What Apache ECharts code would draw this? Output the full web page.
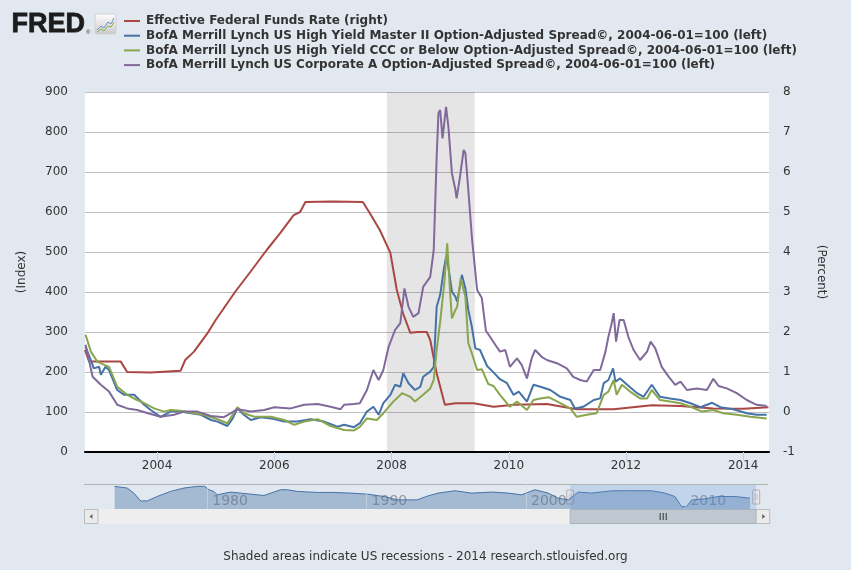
<!DOCTYPE html>
<html>
<head>
<meta charset="utf-8">
<script src="https://cdn.jsdelivr.net/npm/echarts@6/dist/echarts.min.js"></script>
<style>
  html, body { margin: 0; padding: 0; background: #e1e8ef; }
  #chart { width: 851px; height: 570px; }
</style>
</head>
<body>
<div id="chart"></div>
<script>
// all dates are decimal years
const fedYears = [2002.77, 2002.84, 2003.38, 2003.49, 2003.89, 2004.40, 2004.48, 2004.63, 2004.86, 2005.00,
  2005.33, 2005.59, 2005.87, 2006.10, 2006.33, 2006.44, 2006.53, 2007.00, 2007.51, 2007.63,
  2007.80, 2007.98, 2008.09, 2008.20, 2008.32, 2008.45, 2008.60, 2008.66, 2008.77, 2008.91,
  2009.09, 2009.40, 2009.74, 2010.10, 2010.65, 2011.16, 2011.79, 2012.44, 2012.93, 2013.49,
  2014.00, 2014.43];
const fedRate = [1.55, 1.26, 1.26, 1.00, 0.99, 1.03, 1.30, 1.51, 1.97, 2.30,
  3.00, 3.50, 4.05, 4.47, 4.92, 5.00, 5.25, 5.26, 5.25, 4.97,
  4.55, 3.98, 3.05, 2.45, 1.98, 2.00, 2.00, 1.80, 0.97, 0.18,
  0.22, 0.22, 0.13, 0.18, 0.20, 0.07, 0.07, 0.17, 0.15, 0.09,
  0.08, 0.12];

const hyYears = [2002.78, 2002.87, 2002.92, 2003.01, 2003.04, 2003.12, 2003.18, 2003.32, 2003.44, 2003.61,
  2003.78, 2003.89, 2004.06, 2004.23, 2004.40, 2004.58, 2004.75, 2004.92, 2005.03, 2005.20,
  2005.29, 2005.37, 2005.48, 2005.60, 2005.77, 2005.94, 2006.17, 2006.39, 2006.62, 2006.85,
  2007.08, 2007.19, 2007.36, 2007.46, 2007.58, 2007.69, 2007.78, 2007.86, 2007.98, 2008.06,
  2008.15, 2008.20, 2008.29, 2008.40, 2008.49, 2008.54, 2008.66, 2008.72, 2008.77, 2008.83,
  2008.89, 2008.93, 2008.97, 2009.03, 2009.09, 2009.12, 2009.20, 2009.26, 2009.31, 2009.37,
  2009.43, 2009.51, 2009.63, 2009.74, 2009.85, 2009.97, 2010.08, 2010.17, 2010.31, 2010.42,
  2010.54, 2010.71, 2010.88, 2011.05, 2011.13, 2011.27, 2011.45, 2011.56, 2011.62, 2011.70,
  2011.78, 2011.82, 2011.90, 2012.02, 2012.19, 2012.30, 2012.44, 2012.58, 2012.75, 2012.93,
  2013.10, 2013.27, 2013.47, 2013.61, 2013.83, 2014.06, 2014.23, 2014.40];
const hyIndex = [263, 230, 209, 213, 193, 213, 205, 155, 143, 143,
  118, 105, 88, 101, 101, 97, 93, 80, 76, 65,
  84, 109, 93, 80, 87, 84, 76, 76, 82, 76,
  63, 68, 62, 72, 101, 113, 93, 122, 143, 168,
  163, 197, 172, 155, 163, 188, 201, 213, 363, 393,
  455, 488, 463, 401, 388, 376, 443, 409, 355, 313,
  259, 255, 215, 199, 182, 172, 143, 151, 126, 168,
  163, 155, 138, 130, 109, 113, 130, 134, 172, 180,
  209, 176, 184, 168, 147, 138, 168, 138, 134, 130,
  122, 112, 123, 112, 107, 97, 93, 93];

const cccYears = [2002.78, 2002.87, 2002.98, 2003.10, 2003.18, 2003.32, 2003.49, 2003.66, 2003.78, 2003.95,
  2004.12, 2004.23, 2004.40, 2004.58, 2004.80, 2005.03, 2005.20, 2005.37, 2005.48, 2005.66,
  2005.94, 2006.17, 2006.34, 2006.51, 2006.74, 2006.96, 2007.19, 2007.36, 2007.46, 2007.58,
  2007.75, 2007.86, 2008.03, 2008.18, 2008.32, 2008.40, 2008.54, 2008.66, 2008.72, 2008.77,
  2008.83, 2008.90, 2008.95, 2009.00, 2009.03, 2009.09, 2009.12, 2009.18, 2009.26, 2009.31,
  2009.37, 2009.46, 2009.54, 2009.65, 2009.74, 2009.85, 2010.02, 2010.14, 2010.31, 2010.42,
  2010.54, 2010.68, 2010.88, 2011.05, 2011.16, 2011.33, 2011.50, 2011.62, 2011.70, 2011.79,
  2011.84, 2011.93, 2012.07, 2012.24, 2012.36, 2012.44, 2012.58, 2012.75, 2012.93, 2013.10,
  2013.30, 2013.49, 2013.66, 2013.89, 2014.12, 2014.40];
const cccIndex = [293, 251, 226, 218, 213, 163, 143, 130, 122, 109,
  101, 105, 103, 98, 93, 82, 72, 112, 97, 88,
  88, 80, 68, 76, 82, 65, 55, 54, 63, 84,
  80, 97, 126, 147, 138, 126, 143, 159, 180, 255,
  326, 422, 522, 397, 334, 355, 363, 434, 388, 272,
  247, 205, 207, 170, 165, 143, 113, 126, 105, 130,
  134, 137, 122, 109, 88, 93, 97, 143, 151, 180,
  143, 168, 151, 134, 134, 155, 130, 126, 122, 113,
  101, 105, 97, 93, 88, 84];

const corpAYears = [2002.78, 2002.90, 2003.04, 2003.18, 2003.32, 2003.49, 2003.66, 2003.89, 2004.06, 2004.29,
  2004.46, 2004.69, 2004.92, 2005.14, 2005.26, 2005.37, 2005.60, 2005.83, 2006.00, 2006.28,
  2006.51, 2006.74, 2006.96, 2007.13, 2007.19, 2007.36, 2007.46, 2007.58, 2007.69, 2007.78,
  2007.86, 2007.95, 2008.06, 2008.15, 2008.22, 2008.29, 2008.37, 2008.46, 2008.54, 2008.66,
  2008.72, 2008.77, 2008.80, 2008.83, 2008.87, 2008.93, 2008.97, 2009.03, 2009.09, 2009.11,
  2009.16, 2009.23, 2009.26, 2009.31, 2009.37, 2009.46, 2009.54, 2009.61, 2009.68, 2009.77,
  2009.85, 2009.94, 2010.02, 2010.14, 2010.22, 2010.31, 2010.39, 2010.45, 2010.56, 2010.65,
  2010.82, 2010.99, 2011.10, 2011.22, 2011.33, 2011.45, 2011.56, 2011.65, 2011.70, 2011.75,
  2011.79, 2011.83, 2011.89, 2011.96, 2012.04, 2012.13, 2012.24, 2012.36, 2012.42, 2012.50,
  2012.61, 2012.73, 2012.84, 2012.93, 2013.04, 2013.21, 2013.38, 2013.49, 2013.58, 2013.72,
  2013.89, 2014.06, 2014.23, 2014.40];
const corpAIndex = [268, 188, 168, 151, 118, 109, 105, 95, 88, 93,
  101, 101, 90, 87, 97, 107, 101, 105, 112, 109,
  118, 120, 113, 107, 118, 120, 122, 155, 205, 180,
  205, 263, 305, 322, 409, 363, 338, 347, 413, 438,
  505, 738, 847, 855, 784, 863, 813, 697, 655, 634,
  680, 755, 747, 655, 538, 405, 385, 303, 288, 268,
  251, 255, 213, 234, 218, 184, 234, 255, 238, 230,
  222, 209, 188, 180, 176, 205, 205, 251, 288, 318,
  347, 276, 330, 330, 288, 255, 230, 251, 276, 259,
  213, 188, 168, 176, 155, 159, 155, 183, 165, 159,
  147, 130, 118, 115];

// navigator strip: long history, arbitrary height units
const navYears = [1974.19, 1974.98, 1975.40, 1975.82, 1976.24, 1976.86, 1977.70, 1978.54, 1979.37, 1979.84,
  1980.11, 1980.42, 1980.63, 1981.47, 1982.10, 1982.72, 1983.56, 1984.18, 1984.60, 1985.02,
  1985.65, 1986.90, 1987.95, 1989.00, 1990.04, 1991.09, 1991.92, 1993.17, 1993.80, 1994.49,
  1995.54, 1996.59, 1997.84, 1998.88, 1999.72, 2000.56, 2001.39, 2002.02, 2002.65, 2003.27,
  2004.11, 2005.37, 2006.62, 2007.88, 2008.71, 2009.34, 2009.76, 2010.07, 2010.39, 2011.22,
  2012.06, 2013.10, 2014.05];
const navLevel = [67, 62, 47, 24, 24, 37, 52, 62, 67, 67,
  57, 52, 42, 50, 47, 44, 40, 50, 57, 57,
  52, 49, 49, 47, 44, 37, 27, 27, 38, 47,
  54, 47, 50, 47, 42, 57, 47, 32, 27, 50,
  47, 54, 54, 54, 47, 37, 7, 7, 27, 30,
  37, 37, 32];

const recession = [2007.92, 2009.42];
const viewRange = [2002.77, 2014.44];
const navRange = [1972.27, 2015.18];
const yearTicks = [2004, 2006, 2008, 2010, 2012, 2014];
const navTicks = [1980, 1990, 2000, 2010];

const seriesNames = [
  'Effective Federal Funds Rate (right)',
  'BofA Merrill Lynch US High Yield Master II Option-Adjusted Spread\u00a9, 2004-06-01=100 (left)',
  'BofA Merrill Lynch US High Yield CCC or Below Option-Adjusted Spread\u00a9, 2004-06-01=100 (left)',
  'BofA Merrill Lynch US Corporate A Option-Adjusted Spread\u00a9, 2004-06-01=100 (left)'
];
const colors = ['#aa4643', '#4572a7', '#89a54e', '#80699b'];

const zip = (xs, ys) => xs.map((x, i) => [x, ys[i]]);
const FONT = 'DejaVu Sans';
const TXT = '#333333';

const lineSeries = (i, data, yAxisIndex) => ({
  name: seriesNames[i],
  type: 'line',
  data: data,
  xAxisIndex: 0,
  yAxisIndex: yAxisIndex,
  showSymbol: false,
  symbol: 'none',
  color: colors[i],
  lineStyle: { color: colors[i], width: 2 },
  silent: true
});

const chart = echarts.init(document.getElementById('chart'));

chart.setOption({
  animation: false,
  backgroundColor: '#e1e8ef',
  textStyle: { fontFamily: FONT },
  legend: {
    orient: 'vertical',
    left: 124,
    top: 15,
    padding: 0,
    itemWidth: 16,
    itemHeight: 2,
    itemGap: 2.7,
    icon: 'rect',
    selectedMode: false,
    textStyle: { fontFamily: FONT, fontWeight: 'bold', fontSize: 12, color: TXT, lineHeight: 12, padding: [0, 0, 0, 1] },
    data: seriesNames
  },
  grid: [
    { left: 85, right: 82, top: 92, bottom: 118, show: true, backgroundColor: '#ffffff', borderWidth: 0 },
    { left: 84, right: 83, top: 484, height: 25, show: false }
  ],
  xAxis: [
    {
      type: 'value', gridIndex: 0, min: viewRange[0], max: viewRange[1],
      axisLine: { onZero: false, lineStyle: { color: '#000000', width: 2 } },
      axisTick: { customValues: yearTicks, length: 8, lineStyle: { color: '#c0d0e0' } },
      axisLabel: { customValues: yearTicks, formatter: v => String(Math.round(v)), color: TXT, fontSize: 12, margin: 8 },
      splitLine: { show: false }
    },
    {
      type: 'value', gridIndex: 1, min: navRange[0], max: navRange[1],
      axisLine: { show: false },
      axisTick: { show: false },
      axisLabel: { customValues: navTicks, inside: true, formatter: v => String(Math.round(v)),
        color: '#999999', fontSize: 14, margin: 1, align: 'left', verticalAlign: 'bottom', padding: [0, 0, 0, 5] },
      splitLine: { show: false }
    }
  ],
  yAxis: [
    {
      type: 'value', gridIndex: 0, min: 0, max: 900, interval: 100, position: 'left',
      name: '(Index)', nameLocation: 'middle', nameGap: 57,
      nameTextStyle: { color: TXT, fontSize: 12 },
      axisLine: { show: false }, axisTick: { show: false },
      axisLabel: { color: TXT, fontSize: 12, margin: 17 },
      splitLine: { lineStyle: { color: '#c0c0c0' } }
    },
    {
      type: 'value', gridIndex: 0, min: -1, max: 8, interval: 1, position: 'right',
      name: '(Percent)', nameLocation: 'middle', nameGap: 46, nameRotate: -90,
      nameTextStyle: { color: TXT, fontSize: 12 },
      axisLine: { show: false }, axisTick: { show: false },
      axisLabel: { color: TXT, fontSize: 12, margin: 14 },
      splitLine: { show: false }
    },
    {
      type: 'value', gridIndex: 1, min: 0, max: 74, show: false
    }
  ],
  series: [
    Object.assign(lineSeries(0, zip(fedYears, fedRate), 1), {
      markArea: {
        silent: true,
        itemStyle: { color: 'rgba(0,0,0,0.1)' },
        data: [[{ xAxis: recession[0] }, { xAxis: recession[1] }]]
      }
    }),
    lineSeries(1, zip(hyYears, hyIndex), 0),
    lineSeries(2, zip(cccYears, cccIndex), 0),
    lineSeries(3, zip(corpAYears, corpAIndex), 0),
    {
      name: 'navigator',
      type: 'line',
      xAxisIndex: 1,
      yAxisIndex: 2,
      data: zip(navYears, navLevel),
      symbol: 'none',
      silent: true,
      lineStyle: { color: '#4572a7', width: 1 },
      areaStyle: { color: 'rgba(69,114,167,0.56)' },
      markLine: {
        silent: true, symbol: 'none', label: { show: false },
        lineStyle: { color: 'rgba(215,222,232,0.55)', width: 1, type: 'solid' },
        data: navTicks.map(v => ({ xAxis: v }))
      }
    }
  ]
});

// navigator window, handles and scrollbar follow the visible range
const xs = chart.convertToPixel({ xAxisIndex: 1 }, viewRange[0]);
const xe = chart.convertToPixel({ xAxisIndex: 1 }, viewRange[1]);
const navTop = 484, navBottom = 509, barBottom = 524;

const handle = x => ({
  type: 'group',
  children: [
    { type: 'rect', shape: { x: x - 3.5, y: 490, width: 7, height: 14, r: 1 },
      style: { fill: '#ebe7e8', stroke: '#b0b0b0', lineWidth: 1 } },
    { type: 'line', shape: { x1: x - 1, y1: 494, x2: x - 1, y2: 500 }, style: { stroke: '#c8c8c8' } },
    { type: 'line', shape: { x1: x + 1, y1: 494, x2: x + 1, y2: 500 }, style: { stroke: '#c8c8c8' } }
  ]
});

const midThumb = (xs + xe) / 2;

chart.setOption({
  graphic: [
    // FRED logo
    { type: 'text', left: 11, top: 11,
      style: { text: 'FRED', font: 'bold 27px "Liberation Sans"', fill: '#1c1c1c', stroke: '#1c1c1c', lineWidth: 0.8 } },
    { type: 'text', left: 86, top: 29, style: { text: '\u00ae', font: '6px "Liberation Sans"', fill: '#333' } },
    { type: 'rect', shape: { x: 95, y: 14, width: 21, height: 20, r: 2 },
      style: { fill: new echarts.graphic.LinearGradient(0, 0, 0, 1, [
        { offset: 0, color: '#ffffff' }, { offset: 1, color: '#c9c9c9' }]), stroke: '#d0d0d0' } },
    { type: 'polyline', shape: { points: [[97, 30], [101, 26], [104, 28], [108, 22], [111, 24], [114, 18]] },
      style: { stroke: '#6d8fbf', lineWidth: 1, fill: null } },
    { type: 'polyline', shape: { points: [[97, 32], [101, 29], [104, 31], [108, 26], [111, 27], [114, 22]] },
      style: { stroke: '#8ab04e', lineWidth: 1, fill: null } },

    // navigator frame and selected window
    { type: 'line', shape: { x1: 84, y1: navTop + 0.5, x2: 768, y2: navTop + 0.5 }, style: { stroke: '#b2b2b2' } },
    { type: 'rect', shape: { x: xs, y: navTop + 1, width: xe - xs, height: navBottom - navTop - 1 },
      style: { fill: 'rgba(100,150,220,0.25)' }, z: 10 },
    Object.assign(handle(xs), { z: 11 }),
    Object.assign(handle(xe), { z: 11 }),

    // scrollbar
    { type: 'rect', shape: { x: 84, y: navBottom, width: 684, height: barBottom - navBottom },
      style: { fill: '#eeeeee' }, z: 10 },
    { type: 'rect', shape: { x: 84.5, y: navBottom + 0.5, width: 13.5, height: 14 },
      style: { fill: '#ebebeb', stroke: '#bbbbbb' }, z: 11 },
    { type: 'polygon', shape: { points: [[89.5, 516.5], [92.5, 514], [92.5, 519]] }, style: { fill: '#666' }, z: 12 },
    { type: 'rect', shape: { x: xs, y: navBottom + 0.5, width: xe - xs, height: 14 },
      style: { fill: '#bfc8d1', stroke: '#a9b2bc' }, z: 11 },
    { type: 'line', shape: { x1: midThumb - 3, y1: 513, x2: midThumb - 3, y2: 520 }, style: { stroke: '#333' }, z: 12 },
    { type: 'line', shape: { x1: midThumb, y1: 513, x2: midThumb, y2: 520 }, style: { stroke: '#333' }, z: 12 },
    { type: 'line', shape: { x1: midThumb + 3, y1: 513, x2: midThumb + 3, y2: 520 }, style: { stroke: '#333' }, z: 12 },
    { type: 'rect', shape: { x: xe, y: navBottom + 0.5, width: 13.5, height: 14 },
      style: { fill: '#ebebeb', stroke: '#bbbbbb' }, z: 11 },
    { type: 'polygon', shape: { points: [[xe + 9, 516.5], [xe + 6, 514], [xe + 6, 519]] }, style: { fill: '#666' }, z: 12 },

    // footer
    { type: 'text', x: 425.5, y: 557,
      style: { text: 'Shaded areas indicate US recessions - 2014 research.stlouisfed.org',
        font: '12px "DejaVu Sans"', fill: TXT, textAlign: 'center', textVerticalAlign: 'middle' } }
  ]
});
</script>
</body>
</html>
